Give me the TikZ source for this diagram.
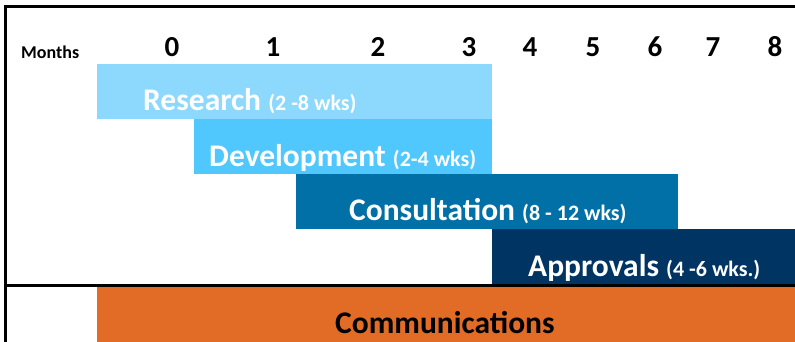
\documentclass[tikz,border=0pt]{standalone}
\usepackage{fontspec}
\setmainfont{Carlito}
\usepackage{xcolor}
\usepackage{tikz}
\usetikzlibrary{positioning}
\definecolor{research}{RGB}{141,216,253}
\definecolor{develop}{RGB}{80,199,253}
\definecolor{consult}{RGB}{0,112,166}
\definecolor{approve}{RGB}{0,52,98}
\definecolor{comms}{RGB}{226,107,37}
\tikzstyle{bar} = [rectangle, inner sep=0pt, outer sep=0pt, anchor=north west, draw=none]
\tikzstyle{barlabel} = [anchor=base west, inner sep=0pt, text=white, font=\bfseries\fontsize{31.5}{34}\selectfont]
\tikzstyle{month} = [anchor=base, inner sep=0pt, font=\bfseries\fontsize{29}{31}\selectfont]
\tikzstyle{frame} = [line width=3pt, black]
\newcommand{\wks}[1]{{\fontsize{22}{24}\selectfont #1}}

\begin{document}
\begin{tikzpicture}[x=1pt, y=-1pt]
\useasboundingbox (0,0) rectangle (795,342);

% frame
\coordinate (tl) at (4,7);
\coordinate (tr) at (795,7);
\coordinate (lt) at (5.5,7);
\coordinate (lb) at (5.5,342);
\coordinate (ml) at (5.5,285.5);
\coordinate (mr) at (795,285.5);

% bars
\node (research) [bar, fill=research, minimum width=395pt, minimum height=55pt] at (97,64) {};
\node (develop) [bar, fill=develop, minimum width=298pt, minimum height=55pt] at (194,119) {};
\node (consult) [bar, fill=consult, minimum width=382pt, minimum height=55pt] at (296,174) {};
\node (approve) [bar, fill=approve, minimum width=303pt, minimum height=56pt] at (492,229) {};
\node (comms) [bar, fill=comms, minimum width=698pt, minimum height=56pt] at (97,286) {};

\draw [frame] (tl) -- (tr);
\draw [frame] (lt) -- (lb);
\draw [frame] (ml) -- (mr);

% months
\node (months) [anchor=base west, inner sep=0pt, font=\bfseries\fontsize{18}{20}\selectfont] at (21,59) {Months};
\foreach \x/\m in {172/0, 273/1, 378/2, 469/3, 530/4, 593/5, 655/6, 713/7, 775/8}
  \node (m\m) [month] at (\x,57) {\m};

% labels
\node (researchtxt) [barlabel] at (143,111) {Research \wks{(2 -8 wks)}};
\node (developtxt) [barlabel] at (209,166) {Development \wks{(2-4 wks)}};
\node (consulttxt) [barlabel] at (349,220) {Consultation \wks{(8 - 12 wks)}};
\node (approvetxt) [barlabel] at (528,276) {Approvals \wks{(4 -6 wks.)}};
\node (commstxt) [barlabel, text=black] at (335,333) {Communications};

\end{tikzpicture}
\end{document}
